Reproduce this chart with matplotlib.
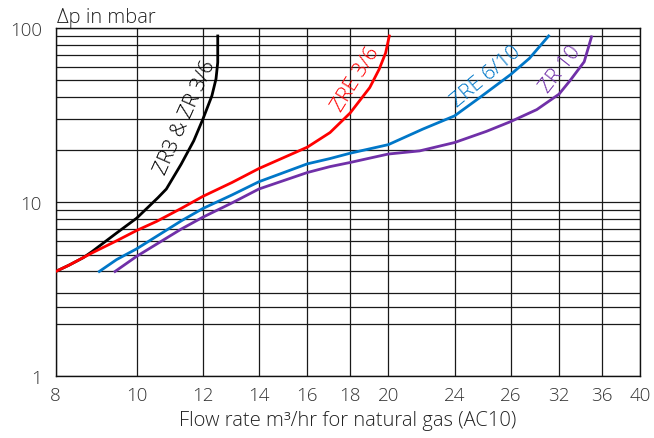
import matplotlib
matplotlib.use("Agg")
import matplotlib.pyplot as plt
from matplotlib.ticker import FixedLocator, NullFormatter

plt.rcParams['font.family'] = ['Open Sans', 'DejaVu Sans']

# ── Data ──────────────────────────────────────────────────────────────────────
x_ticks   = [8, 10, 12, 14, 16, 18, 20, 24, 28, 32, 36, 40]
x_labels  = ["8", "10", "12", "14", "16", "18", "20", "24", "26", "32", "36", "40"]
y_ticks   = [1, 10, 100]
y_minor   = [2, 2.5, 3, 4, 5, 6, 7, 8, 9, 20, 30, 40, 50, 60, 70, 80, 90]

zr3_x = [8, 8.3, 8.63, 8.84, 9.46, 10, 10.6, 10.85, 11.3, 11.7, 12.0, 12.3, 12.44, 12.5, 12.5]
zr3_y = [4, 4.35, 4.8, 5.2, 6.65, 8.1, 10.6, 11.9, 16.5, 22.5, 30, 40.8, 51, 63.5, 90]

zre36_x = [8, 8.3, 8.84, 9.46, 10, 10.56, 11.3, 12, 13, 14, 16, 17.03, 18, 19, 19.5, 19.85, 20.05]
zre36_y = [4, 4.35, 5.11, 6.0, 6.88, 7.75, 9.2, 10.8, 12.97, 15.6, 20.7, 25.1, 32.5, 45.5, 58, 72, 90]

zre610_x = [9.02, 9.46, 10, 11.3, 12, 13, 14, 16, 17.03, 18, 20, 22, 24, 25.75, 28, 29.5, 31.1]
zre610_y = [4, 4.68, 5.4, 7.8, 9.2, 11.0, 13.1, 16.6, 17.8, 19.1, 21.4, 26.3, 31.3, 40, 54, 67, 90]

zr10_x = [9.42, 10, 11.3, 12, 13, 14, 16, 17.03, 18, 19, 20, 21.8, 24, 26.2, 28, 30.1, 32, 33, 34.3, 35.0]
zr10_y = [4, 4.89, 7.0, 8.2, 9.9, 11.9, 14.8, 16.0, 16.9, 17.9, 18.9, 19.7, 22.0, 25.5, 29, 34, 41.7, 50, 64, 89]

series = [
    (zr3_x,    zr3_y,    "#000000", "ZR3 & ZR 3/6", (11.42, 31), 66),
    (zre36_x,  zre36_y,  "#ff0000", "ZRE 3/6",      (18.3, 51), 58),
    (zre610_x, zre610_y, "#0077c8", "ZRE 6/10",     (26.2, 53),  40),
    (zr10_x,   zr10_y,   "#7030a8", "ZR 10",        (32.1, 58),  52),
]

# ── Plot ──────────────────────────────────────────────────────────────────────
fig = plt.figure(figsize=(6.54, 4.39), dpi=100)
ax = fig.add_axes([0.0852, 0.1405, 0.8934, 0.7934])

ax.set_xscale("log")
ax.set_yscale("log")
ax.set_xlim(8, 40)
ax.set_ylim(1, 100)

ax.xaxis.set_major_locator(FixedLocator(x_ticks))
ax.xaxis.set_minor_locator(FixedLocator([]))
ax.set_xticklabels(x_labels, fontweight="light")
ax.yaxis.set_major_locator(FixedLocator(y_ticks))
ax.set_yticklabels([str(v) for v in y_ticks], fontweight="light")
ax.yaxis.set_minor_locator(FixedLocator(y_minor))
ax.yaxis.set_minor_formatter(NullFormatter())

ax.grid(which="both", color="#1a1a1a", lw=0.9)
ax.tick_params(which="both", length=0, labelsize=13.5, colors="#333333")
ax.tick_params(axis="x", pad=7)
ax.tick_params(axis="y", pad=10)
for s in ax.spines.values():
    s.set_color("#111111")
    s.set_linewidth(1.0)

for xs, ys, c, label, pos, rot in series:
    ax.plot(xs, ys, color=c, lw=2.0, solid_joinstyle="round", zorder=3)
    ax.text(pos[0], pos[1], label, color=c, fontsize=15, rotation=rot,
            ha="center", va="center", rotation_mode="anchor", zorder=4,
            fontweight="light")

ax.text(0.003, 1.004, "Δp in mbar", transform=ax.transAxes, fontsize=14.5,
        color="#222222", ha="left", va="bottom", fontweight="light")
ax.set_xlabel("Flow rate m³/hr for natural gas (AC10)", fontsize=14.5,
              color="#222222", labelpad=4, fontweight="light")

plt.savefig("out.png", dpi=100)
